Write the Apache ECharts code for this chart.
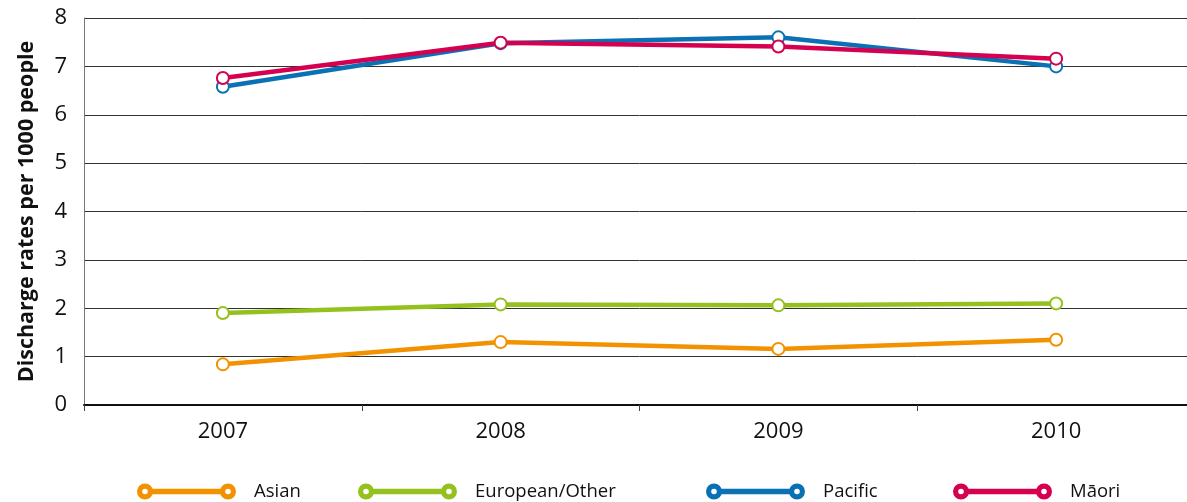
<!DOCTYPE html>
<html>
<head>
<meta charset="utf-8">
<script src="https://cdn.jsdelivr.net/npm/echarts@6/dist/echarts.min.js"></script>
<style>html,body{margin:0;padding:0;background:#fff;overflow:hidden}#c{width:1200px;height:502px}</style>
</head>
<body>
<div id="c"></div>
<script>
var categories = ['2007', '2008', '2009', '2010'];
var asian = [0.84, 1.30, 1.16, 1.35];
var european = [1.90, 2.08, 2.06, 2.10];
var pacific = [6.58, 7.48, 7.60, 7.00];
var maori = [6.76, 7.49, 7.41, 7.16];
var seriesNames = ['Asian', 'European/Other', 'Pacific', 'Māori'];
var colors = ['#F39200', '#95C11F', '#0A71B4', '#D5004F'];
var yTicks = [0, 1, 2, 3, 4, 5, 6, 7, 8];

var FONT = 'Open Sans';
var icon = 'path://M0,7 A7,7 0 1,0 14,7 A7,7 0 1,0 0,7 Z M3.2,7 A3.8,3.8 0 1,1 10.8,7 A3.8,3.8 0 1,1 3.2,7 Z ' +
  'M83,7 A7,7 0 1,0 97,7 A7,7 0 1,0 83,7 Z M86.2,7 A3.8,3.8 0 1,1 93.8,7 A3.8,3.8 0 1,1 86.2,7 Z ' +
  'M13.5,5.3 L83.5,5.3 L83.5,8.7 L13.5,8.7 Z';
var legendLefts = [132, 353, 701, 948];
var dataArr = [asian, european, pacific, maori];

var chart = echarts.init(document.getElementById('c'));
chart.setOption({
  animation: false,
  color: colors,
  legend: seriesNames.map(function (n, i) {
    return {
      data: [n], left: legendLefts[i], top: 477, icon: icon,
      itemWidth: 97, itemHeight: 14, selectedMode: false,
      textStyle: { fontFamily: FONT, fontSize: 18.5, color: '#111', padding: [0, 0, 0, 14] }
    };
  }),
  grid: { left: 84, right: 5, top: 18, bottom: 97 },
  xAxis: {
    type: 'category', data: categories, boundaryGap: true,
    axisLine: { lineStyle: { color: '#111', width: 2 } },
    axisTick: { show: true, length: 6, lineStyle: { color: '#444' } },
    axisLabel: { fontFamily: FONT, fontSize: 22, color: '#111', margin: 16 }
  },
  yAxis: {
    type: 'value', min: yTicks[0], max: yTicks[yTicks.length - 1], interval: 1,
    name: 'Discharge rates per 1000 people', nameLocation: 'middle', nameGap: 46,
    nameTextStyle: { fontFamily: FONT, fontSize: 21.5, fontWeight: 'bold', color: '#111' },
    axisLine: { show: true, lineStyle: { color: '#777', width: 1 } },
    axisTick: { show: false },
    axisLabel: { fontFamily: FONT, fontSize: 22, color: '#111', margin: 17 },
    splitLine: { lineStyle: { color: '#333', width: 1 } }
  },
  series: dataArr.map(function (d, i) {
    return {
      name: seriesNames[i], type: 'line', data: d,
      symbol: 'emptyCircle', symbolSize: 12,
      lineStyle: { width: 4.5, color: colors[i] },
      itemStyle: { color: colors[i], borderColor: colors[i], borderWidth: 3.5 }
    };
  })
});
</script>
</body>
</html>
